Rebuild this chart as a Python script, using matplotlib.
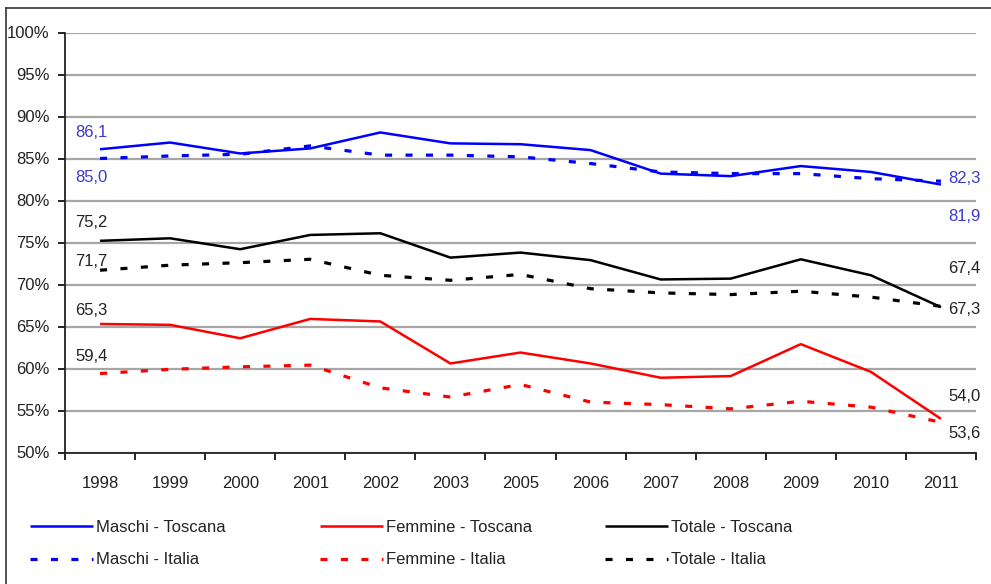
import matplotlib
matplotlib.use("Agg")
import matplotlib.pyplot as plt
from matplotlib.lines import Line2D

plt.rcParams['font.family'] = ['Liberation Sans', 'DejaVu Sans']

years = ["1998", "1999", "2000", "2001", "2002", "2003", "2005", "2006",
         "2007", "2008", "2009", "2010", "2011"]

maschi_toscana = [86.1, 86.9, 85.6, 86.2, 88.1, 86.8, 86.7, 86.0, 83.2, 82.9, 84.1, 83.4, 81.9]
maschi_italia = [85.0, 85.3, 85.5, 86.5, 85.4, 85.4, 85.2, 84.4, 83.4, 83.2, 83.2, 82.6, 82.3]
totale_toscana = [75.2, 75.5, 74.2, 75.9, 76.1, 73.2, 73.8, 72.9, 70.6, 70.7, 73.0, 71.1, 67.3]
totale_italia = [71.7, 72.3, 72.6, 73.0, 71.1, 70.5, 71.2, 69.5, 69.0, 68.8, 69.2, 68.5, 67.4]
femmine_toscana = [65.3, 65.2, 63.6, 65.9, 65.6, 60.6, 61.9, 60.6, 58.9, 59.1, 62.9, 59.6, 54.0]
femmine_italia = [59.4, 59.9, 60.2, 60.4, 57.7, 56.6, 58.1, 56.0, 55.7, 55.2, 56.1, 55.4, 53.6]

y_ticks = [50, 55, 60, 65, 70, 75, 80, 85, 90, 95, 100]
y_tick_labels = ["50%", "55%", "60%", "65%", "70%", "75%", "80%", "85%", "90%", "95%", "100%"]

W, H = 991, 584
fig = plt.figure(figsize=(W / 100, H / 100), dpi=100)
ax = fig.add_axes([65 / W, 1 - 452.5 / H, (976 - 65) / W, (452.5 - 32.5) / H])

x = list(range(len(years)))
BLUE = "#0000ff"
RED = "#ff0000"
BLACK = "#000000"
DOT = (0, (2.2, 4.2))
LW_S = 1.8
LW_D = 2.3

series = [
    ("Maschi - Toscana", maschi_toscana, BLUE, "-", LW_S),
    ("Maschi - Italia", maschi_italia, BLUE, DOT, LW_D),
    ("Femmine - Toscana", femmine_toscana, RED, "-", LW_S),
    ("Femmine - Italia", femmine_italia, RED, DOT, LW_D),
    ("Totale - Toscana", totale_toscana, BLACK, "-", LW_S),
    ("Totale - Italia", totale_italia, BLACK, DOT, LW_D),
]
handles = {}
for name, vals, col, ls, lw in series:
    (ln,) = ax.plot(x, vals, color=col, linestyle=ls, linewidth=lw, zorder=3,
                    solid_capstyle="butt", dash_capstyle="butt")
    handles[name] = ln

ax.set_ylim(50, 100)
ax.set_xlim(-0.5, len(years) - 0.5)
ax.set_yticks(y_ticks)
ax.set_yticklabels(y_tick_labels, fontsize=12, color="#222222")
ax.yaxis.grid(True, color="#a6a6a6", linewidth=1.6, zorder=0)
ax.set_axisbelow(True)

ax.set_xticks(x)
ax.set_xticklabels(years, fontsize=12, color="#222222")
ax.set_xticks([i - 0.5 for i in range(len(years) + 1)], minor=True)
ax.tick_params(axis="x", which="major", length=0, pad=17)
ax.tick_params(axis="x", which="minor", length=5, width=1.2, direction="out")
ax.tick_params(axis="y", length=5, width=1.2, direction="out", pad=6)

for s in ["top", "right"]:
    ax.spines[s].set_visible(False)
for s in ["left", "bottom"]:
    ax.spines[s].set_linewidth(1.3)
    ax.spines[s].set_color("#222222")

# data labels (first / last values)
LBL_BLUE = "#3a3acc"
LBL_DARK = "#222222"
first_labels = [
    (maschi_toscana[0], LBL_BLUE, 17),
    (maschi_italia[0], LBL_BLUE, -19),
    (totale_toscana[0], LBL_DARK, 18),
    (totale_italia[0], LBL_DARK, 9),
    (femmine_toscana[0], LBL_DARK, 13),
    (femmine_italia[0], LBL_DARK, 17),
]
last_labels = [
    (maschi_italia[-1], LBL_BLUE, 3),
    (maschi_toscana[-1], LBL_BLUE, -32),
    (totale_italia[-1], LBL_DARK, 38),
    (totale_toscana[-1], LBL_DARK, -2),
    (femmine_toscana[-1], LBL_DARK, 22),
    (femmine_italia[-1], LBL_DARK, -11),
]

def fmt(v):
    return f"{v:.1f}".replace(".", ",")

for v, col, dy in first_labels:
    ax.annotate(fmt(v), (0, v), xytext=(-25, dy), textcoords="offset pixels",
                ha="left", va="center", fontsize=12, color=col, zorder=5)
for v, col, dy in last_labels:
    ax.annotate(fmt(v), (len(years) - 1, v), xytext=(7, dy), textcoords="offset pixels",
                ha="left", va="center", fontsize=12, color=col, zorder=5, annotation_clip=False)

# legend: three columns, two rows
groups = [("Maschi - Toscana", "Maschi - Italia", 30),
          ("Femmine - Toscana", "Femmine - Italia", 320),
          ("Totale - Toscana", "Totale - Italia", 605)]
for top, bottom, xpx in groups:
    leg = fig.legend([handles[top], handles[bottom]], [top, bottom],
                     loc="upper left", bbox_to_anchor=(xpx / W, 1 - 520 / H),
                     frameon=False, fontsize=12, handlelength=3.8, handletextpad=0.15,
                     borderaxespad=0, borderpad=0, labelspacing=1.05)
    for t in leg.get_texts():
        t.set_color("#222222")

# partial frame (top and left edges)
fig.add_artist(Line2D([6 / W, 1], [1 - 8 / H, 1 - 8 / H], transform=fig.transFigure,
                      color="#333333", linewidth=1.2))
fig.add_artist(Line2D([6 / W, 6 / W], [0, 1 - 8 / H], transform=fig.transFigure,
                      color="#333333", linewidth=1.2))

fig.savefig("out.png", dpi=100)
